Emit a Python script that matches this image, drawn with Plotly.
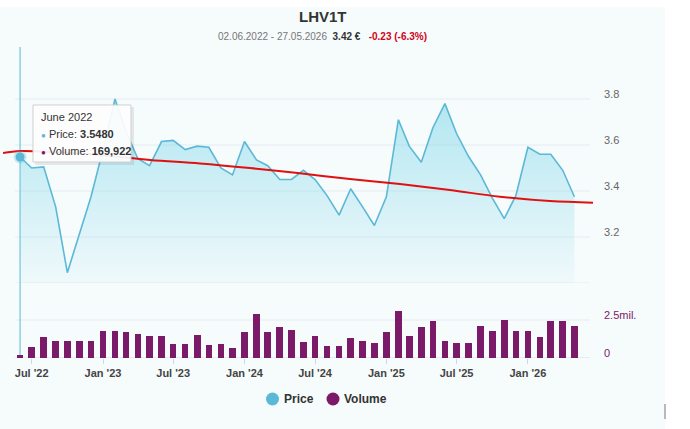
import plotly.graph_objects as go

W, H = 690, 429

months = [
    "2022-06-01", "2022-07-01", "2022-08-01", "2022-09-01", "2022-10-01", "2022-11-01", "2022-12-01",
    "2023-01-01", "2023-02-01", "2023-03-01", "2023-04-01", "2023-05-01", "2023-06-01",
    "2023-07-01", "2023-08-01", "2023-09-01", "2023-10-01", "2023-11-01", "2023-12-01",
    "2024-01-01", "2024-02-01", "2024-03-01", "2024-04-01", "2024-05-01", "2024-06-01",
    "2024-07-01", "2024-08-01", "2024-09-01", "2024-10-01", "2024-11-01", "2024-12-01",
    "2025-01-01", "2025-02-01", "2025-03-01", "2025-04-01", "2025-05-01", "2025-06-01",
    "2025-07-01", "2025-08-01", "2025-09-01", "2025-10-01", "2025-11-01", "2025-12-01",
    "2026-01-01", "2026-02-01", "2026-03-01", "2026-04-01", "2026-05-01",
]

price = [
    3.548, 3.50, 3.505, 3.33, 3.045, 3.21, 3.375,
    3.58, 3.80, 3.66, 3.54, 3.51, 3.615, 3.62, 3.58, 3.595, 3.59, 3.50, 3.47,
    3.615, 3.535, 3.51, 3.45, 3.45, 3.49, 3.45, 3.38, 3.295, 3.41, 3.33, 3.25,
    3.375, 3.71, 3.595, 3.525, 3.675, 3.78, 3.65, 3.55, 3.47, 3.37, 3.28, 3.38,
    3.59, 3.56, 3.56, 3.49, 3.375,
]

volume = [
    169922, 700000, 1360000, 1140000, 1100000, 1100000, 1100000,
    1750000, 1800000, 1690000, 1580000, 1470000, 1430000, 920000, 920000, 1540000, 880000, 920000, 660000,
    1690000, 2890000, 1690000, 2020000, 1860000, 1030000, 1470000, 770000, 810000, 1320000, 1100000, 990000,
    1690000, 3070000, 1470000, 2020000, 2460000, 1140000, 990000, 990000, 2130000, 1750000, 2520000, 1800000,
    1800000, 1360000, 2410000, 2460000, 2080000,
]

trend_dates = [
    "2022-04-18", "2022-06-01", "2022-09-12", "2022-12-24", "2023-05-02", "2023-09-08",
    "2024-01-15", "2024-05-23", "2024-09-29", "2025-02-05", "2025-06-14", "2025-10-21",
    "2026-02-27", "2026-06-18",
]
trend_values = [
    3.565, 3.574, 3.567, 3.557, 3.535, 3.52,
    3.50, 3.477, 3.452, 3.43, 3.404, 3.375,
    3.356, 3.349,
]

price_ticks = [3.0, 3.2, 3.4, 3.6, 3.8]
price_ticktext = ["", "3.2", "3.4", "3.6", "3.8"]
vol_ticks = [0, 2500000]
vol_ticktext = ["0", "2.5mil."]

title_text = "LHV1T"
period_text = "02.06.2022 - 27.05.2026"
last_text = "3.42 €"
change_text = "-0.23 (-6.3%)"

tip_title = "June 2022"
tip_price = "3.5480"
tip_volume = "169,922"

legend_names = ["Price", "Volume"]

PRICE_C = "#5bb8d6"
VOL_C = "#7a1a69"
RED_C = "#e01010"
BG = "#f6fbfc"
FONT = "Liberation Sans, Arial, sans-serif"


def px(x):
    return x / W


def py(y):
    return 1 - y / H


fig = go.Figure()

# price area
fig.add_trace(go.Scatter(
    x=months, y=price, mode="lines", xaxis="x", yaxis="y",
    line=dict(color=PRICE_C, width=1.6),
    fill="tozeroy",
    fillgradient=dict(type="vertical", start=3.0, stop=3.8,
                      colorscale=[[0, "rgba(110,210,230,0.05)"], [1, "rgba(110,210,230,0.5)"]]),
    showlegend=False, hoverinfo="skip",
))

# trend line
fig.add_trace(go.Scatter(
    x=trend_dates, y=trend_values, mode="lines", xaxis="x", yaxis="y",
    line=dict(color=RED_C, width=2, shape="spline", smoothing=1.0),
    showlegend=False, hoverinfo="skip",
))

# highlighted point
fig.add_trace(go.Scatter(
    x=[months[0]], y=[price[0]], mode="markers", xaxis="x", yaxis="y",
    marker=dict(color=PRICE_C, size=9, line=dict(color="rgba(91,184,214,0.3)", width=4)),
    showlegend=False, hoverinfo="skip", cliponaxis=False,
))

# volume bars
fig.add_trace(go.Bar(
    x=months, y=volume, xaxis="x", yaxis="y2",
    marker=dict(color=VOL_C, line=dict(width=0)),
    width=17 * 86400000,
    showlegend=False, hoverinfo="skip",
))

shapes = []
# horizontal grid lines (price)
for v in price_ticks:
    shapes.append(dict(type="line", xref="paper", yref="y", x0=px(15), x1=px(590), y0=v, y1=v,
                       line=dict(color="#e6ebf2", width=1), layer="below"))
# volume grid lines
shapes.append(dict(type="line", xref="paper", yref="y2", x0=px(15), x1=px(590), y0=vol_ticks[1], y1=vol_ticks[1],
                   line=dict(color="#e6ebf2", width=1), layer="below"))
shapes.append(dict(type="line", xref="paper", yref="y2", x0=px(15), x1=px(590), y0=0, y1=0,
                   line=dict(color="#d5dcea", width=1), layer="below"))
# crosshair
shapes.append(dict(type="line", xref="x", yref="paper", x0=months[0], x1=months[0], y0=py(358), y1=py(47),
                   line=dict(color=PRICE_C, width=1), layer="below"))
# white page outside chart container
shapes.append(dict(type="rect", xref="paper", yref="paper", x0=px(665), x1=1, y0=0, y1=1,
                   fillcolor="white", line=dict(width=0), layer="below"))
shapes.append(dict(type="rect", xref="paper", yref="paper", x0=0, x1=1, y0=py(7), y1=1,
                   fillcolor="white", line=dict(width=0), layer="below"))
shapes.append(dict(type="line", xref="paper", yref="paper", x0=px(665), x1=px(665), y0=py(404), y1=py(419),
                   line=dict(color="#777777", width=1)))
# tooltip box with shadow
shapes.append(dict(type="rect", xref="paper", yref="paper", x0=px(35), x1=px(134), y0=py(165), y1=py(107),
                   fillcolor="rgba(0,0,0,0.08)", line=dict(width=0)))
shapes.append(dict(type="rect", xref="paper", yref="paper", x0=px(33), x1=px(131), y0=py(162), y1=py(105),
                   fillcolor="rgba(255,255,255,0.92)", line=dict(color="#cfcfcf", width=1)))
# legend symbols
for cx, col in [(272.5, PRICE_C), (333, VOL_C)]:
    shapes.append(dict(type="circle", xref="paper", yref="paper",
                       x0=px(cx - 6.5), x1=px(cx + 6.5), y0=py(399 + 6.5), y1=py(399 - 6.5),
                       fillcolor=col, line=dict(width=0)))

annotations = [
    dict(text="<b>" + title_text + "</b>", x=px(323), y=py(17), xref="paper", yref="paper",
         showarrow=False, xanchor="center", yanchor="middle", font=dict(size=15, color="#333333", family=FONT)),
    dict(text=period_text + "  <b><span style='color:#333333'>" + last_text + "</span></b>   "
              "<b><span style='color:#d0021b'>" + change_text + "</span></b>",
         x=px(322), y=py(37), xref="paper", yref="paper",
         showarrow=False, xanchor="center", yanchor="middle", font=dict(size=10, color="#777777", family=FONT)),
    dict(text=tip_title, x=px(39), y=py(117), xref="paper", yref="paper", showarrow=False,
         xanchor="left", yanchor="middle", font=dict(size=11, color="#333333", family=FONT)),
    dict(text="<span style='color:" + PRICE_C + ";font-size:8px'>●</span> Price: <b>" + tip_price + "</b>",
         x=px(39), y=py(134), xref="paper", yref="paper", showarrow=False,
         xanchor="left", yanchor="middle", font=dict(size=11, color="#333333", family=FONT)),
    dict(text="<span style='color:" + VOL_C + ";font-size:8px'>●</span> Volume: <b>" + tip_volume + "</b>",
         x=px(39), y=py(151), xref="paper", yref="paper", showarrow=False,
         xanchor="left", yanchor="middle", font=dict(size=11, color="#333333", family=FONT)),
    dict(text="<b>" + legend_names[0] + "</b>", x=px(282), y=py(399), xref="paper", yref="paper",
         showarrow=False, xanchor="left", yanchor="middle", font=dict(size=12, color="#333333", family=FONT)),
    dict(text="<b>" + legend_names[1] + "</b>", x=px(342), y=py(399), xref="paper", yref="paper",
         showarrow=False, xanchor="left", yanchor="middle", font=dict(size=12, color="#333333", family=FONT)),
]

fig.update_layout(
    width=W, height=H,
    margin=dict(l=0, r=0, t=0, b=0),
    paper_bgcolor=BG, plot_bgcolor="rgba(0,0,0,0)",
    font=dict(family=FONT, color="#666666", size=11),
    xaxis=dict(
        domain=[px(3), px(593)], anchor="y2",
        type="date", range=["2022-04-18", "2026-06-18"],
        tick0="2022-07-01", dtick="M6", tickformat="%b '%y",
        ticks="outside", ticklen=5, tickcolor="#ccd6eb",
        showgrid=False, showline=False, zeroline=False,
        tickfont=dict(size=11, color="#444444", family=FONT, weight="bold"),
    ),
    yaxis=dict(
        domain=[py(283), py(60)], range=[3.0, 3.0 + 223 / 230], side="right", anchor="x",
        tickvals=price_ticks, ticktext=price_ticktext, showgrid=False, zeroline=False,
        ticks="", ticklabelstandoff=10, ticklabelshift=-5,
        tickfont=dict(size=11, color="#666666", family=FONT),
    ),
    yaxis2=dict(
        domain=[py(358), py(300)], range=[0, 58 / 15.2 * 1e6], side="right", anchor="x",
        tickvals=vol_ticks, ticktext=vol_ticktext, showgrid=False, zeroline=False,
        ticks="", ticklabelstandoff=10, ticklabelshift=-5,
        tickfont=dict(size=11, color=VOL_C, family=FONT),
    ),
    showlegend=False,
    shapes=shapes,
    annotations=annotations,
    bargap=0,
)

fig.write_html("out.html")
